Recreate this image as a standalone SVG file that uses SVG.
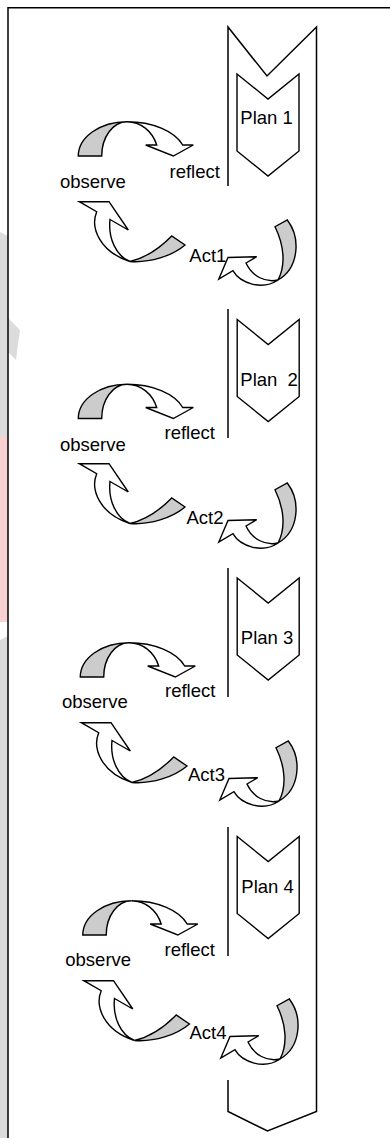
<svg xmlns="http://www.w3.org/2000/svg" xmlns:xlink="http://www.w3.org/1999/xlink" width="390" height="1138" viewBox="0 0 390 1138">
  <style>
    .ln { fill: none; stroke: #000; stroke-width: 1.5; stroke-linejoin: miter; }
    .shape { fill: #fff; stroke: #000; stroke-width: 1.4; stroke-linejoin: miter; }
    .shade { fill: #cccccc; stroke: #000; stroke-width: 1.4; stroke-linejoin: miter; }
    .lbl { font-family: "Liberation Sans", Arial, sans-serif; font-size: 18.5px; fill: #000; }
    .wm-g { fill: #dcdcdc; }
    .wm-r { fill: #f8d2d2; }
  </style>
  <defs>
    <!-- curved arrow over the top: shaded tail on the left, head pointing down on the right -->
    <g id="arcTop">
      <path class="shade" d="M78.3,156 A48.7,34.3 0 0 1 127,121.7 A25.3,34.3 0 0 0 101.7,156 Z"/>
      <path class="shape" d="M127,121.7 A58.8,34.3 0 0 1 182.7,145 L193.3,145 L173.3,156 L145.7,145 L156.7,145 A31.4,34.3 0 0 0 127,121.7 Z"/>
    </g>
    <!-- curved arrow under the bottom: shaded tail on the right, head pointing up on the left -->
    <g id="arcBottom">
      <path class="shade" d="M130,261.5 C150,263 172,256 185,245 L171.7,236 C160,248 145,258 130,261.5 Z"/>
      <path class="shape" d="M110,219.5 L128.3,230 L109,201.7 L79.3,201.7 L96.7,211.7 C90,228 100,252 130,261.5 C116,256 108,238 110,219.5 Z"/>
    </g>
    <!-- curved arrow on the right side: shaded tail at the top, head pointing left -->
    <g id="arcRight">
      <path class="shade" d="M278,280 C299,268 301,238 287.3,220 L275,226.7 C284,245 286,265 278,280 Z"/>
      <path class="shape" d="M246,263 L256.7,256.7 L228,257.5 L218.8,279 L232.9,270.7 C240,283 262,291 278,280 C265,283 252,276 246,263 Z"/>
    </g>
    <polygon id="planShape" points="237,0 268,25 299,0 299,77 268,102 237,77"/>
  </defs>

  <!-- faint background marks along the left edge -->
  <g id="backdrop">
    <path class="wm-g" d="M0,232 L8,236 L8,318 L20,330 L16,360 L8,352 L8,470 L0,470 Z"/>
    <path class="wm-r" d="M0,436 L8,436 L8,622 L0,622 Z"/>
    <path class="wm-g" d="M0,640 L8,636 L8,1138 L0,1138 Z"/>
  </g>

  <!-- page frame -->
  <g id="frame">
    <path class="ln" d="M8,1138 L8,7.8 L390,7.8" stroke="#222" stroke-width="2"/>
  </g>

  <!-- main downward flow arrow, broken on the left beside each plan -->
  <g id="flow">
    <path class="ln" d="M228,186 L228,27 L267,76 L316.5,27 L316.5,1111.5 L267.5,1131 L228,1111.5 L228,1080"/>
    <path class="ln" d="M228,309 L228,438"/>
    <path class="ln" d="M228,568 L228,697"/>
    <path class="ln" d="M228,827 L228,956"/>
  </g>

  <!-- plan steps -->
  <g id="plan1">
    <use xlink:href="#planShape" class="shape" transform="translate(0,74)"/>
    <text class="lbl" x="240.3" y="124">Plan 1</text>
  </g>
  <g id="plan2">
    <use xlink:href="#planShape" class="shape" transform="translate(0.2,319.5)"/>
    <text class="lbl" x="240.3" y="386" xml:space="preserve">Plan  2</text>
  </g>
  <g id="plan3">
    <use xlink:href="#planShape" class="shape" transform="translate(0.2,578)"/>
    <text class="lbl" x="240.8" y="644">Plan 3</text>
  </g>
  <g id="plan4">
    <use xlink:href="#planShape" class="shape" transform="translate(0.2,836.5)"/>
    <text class="lbl" x="241.3" y="892.7">Plan 4</text>
  </g>

  <!-- cycle arrows -->
  <g id="connectors">
    <use xlink:href="#arcTop"/>
    <use xlink:href="#arcBottom"/>
    <use xlink:href="#arcRight"/>
    <use xlink:href="#arcTop" transform="translate(0,262.5)"/>
    <use xlink:href="#arcBottom" transform="translate(0,262)"/>
    <use xlink:href="#arcRight" transform="translate(0,263)"/>
    <use xlink:href="#arcTop" transform="translate(2,521)"/>
    <use xlink:href="#arcBottom" transform="translate(2,521)"/>
    <use xlink:href="#arcRight" transform="translate(1,521)"/>
    <use xlink:href="#arcTop" transform="translate(4.5,779)"/>
    <use xlink:href="#arcBottom" transform="translate(4.5,779)"/>
    <use xlink:href="#arcRight" transform="translate(2,779)"/>
  </g>

  <!-- cycle labels -->
  <g id="reflect1"><text class="lbl" x="169.5" y="178.3">reflect</text></g>
  <g id="observe1"><text class="lbl" x="60" y="188.3">observe</text></g>
  <g id="act1"><text class="lbl" x="189.3" y="261.7">Act1</text></g>

  <g id="reflect2"><text class="lbl" x="164.5" y="439.3">reflect</text></g>
  <g id="observe2"><text class="lbl" x="60" y="451">observe</text></g>
  <g id="act2"><text class="lbl" x="186.5" y="524">Act2</text></g>

  <g id="reflect3"><text class="lbl" x="165" y="697">reflect</text></g>
  <g id="observe3"><text class="lbl" x="62" y="708">observe</text></g>
  <g id="act3"><text class="lbl" x="188" y="781">Act3</text></g>

  <g id="reflect4"><text class="lbl" x="164.5" y="955.7">reflect</text></g>
  <g id="observe4"><text class="lbl" x="65.3" y="965.7">observe</text></g>
  <g id="act4"><text class="lbl" x="189.5" y="1039.3">Act4</text></g>
</svg>
